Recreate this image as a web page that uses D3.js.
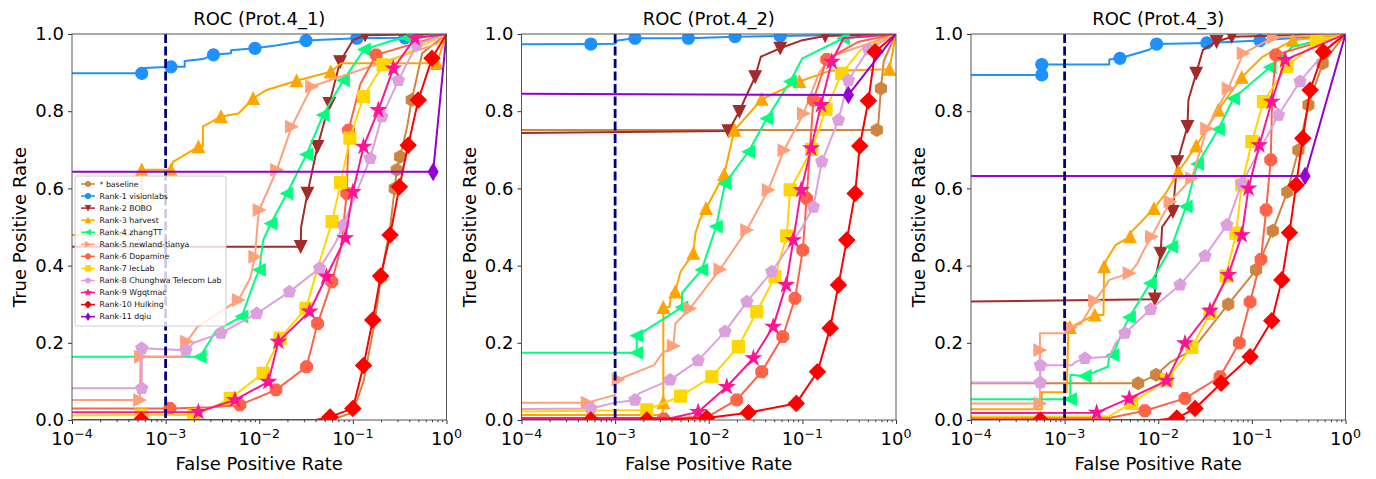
<!DOCTYPE html>
<html><head><meta charset="utf-8">
<script src="https://cdn.jsdelivr.net/npm/d3@7"></script>
<style>body{margin:0;background:#fff} text{font-family:"DejaVu Sans",sans-serif}</style>
</head><body>
<svg id="chart" width="1376" height="479"></svg>
<script>
// ---------------- data ----------------
const panelTitles = ["ROC (Prot.4_1)", "ROC (Prot.4_2)", "ROC (Prot.4_3)"];
const seriesNames = ["* baseline", "Rank-1 visionlabs", "Rank-2 BOBO", "Rank-3 harvest", "Rank-4 zhangTT",
  "Rank-5 newland-tianya", "Rank-6 Dopamine", "Rank-7 lecLab", "Rank-8 Chunghwa Telecom Lab",
  "Rank-9 Wgqtmac", "Rank-10 Hulking", "Rank-11 dqiu"];
const xTickValues = [1e-4, 1e-3, 1e-2, 1e-1, 1];
const xTickExponents = ["\u22124", "\u22123", "\u22122", "\u22121", "0"];
const yTickValues = [0, 0.2, 0.4, 0.6, 0.8, 1.0];
const thresholdFPR = 1e-3;
const xAxisLabel = "False Positive Rate";
const yAxisLabel = "True Positive Rate";

// each series: [panel1, panel2, panel3]; point = [fpr, tpr, markerFlag]
const baseline = [
  [[1e-5,0],[0.06,0],[0.1,0.02],[0.13,0.1],[0.17,0.25],[0.2,0.37,1],[0.25,0.5],[0.28,0.6,1],[0.294,0.648,1],[0.32,0.682,1],[0.38,0.76],[0.425,0.829,1],[0.55,0.95],[1,1]],
  [[1e-5,0.751],[0.624,0.751,1],[0.64,0.751],[0.69,0.859,1],[0.74,0.93],[1,1]],
  [[1e-5,0.095],[6.1e-3,0.095,1],[9.5e-3,0.117,1],[0.0135,0.15],[0.023,0.181],[0.056,0.3,1],[0.111,0.389,1],[0.167,0.49,1],[0.239,0.591,1],[0.314,0.699,1],[0.402,0.816,1],[0.57,0.924,1],[1,1]]
];
const visionlabs = [
  [[1e-5,0.898],[5.56e-4,0.898,1],[6e-4,0.898],[6e-4,0.912],[1.14e-3,0.915,1],[1.6e-3,0.915],[1.6e-3,0.93],[2.5e-3,0.935],[3.24e-3,0.946,1],[5e-3,0.95],[5e-3,0.958],[9.0e-3,0.963,1],[0.015,0.97],[0.0316,0.983,1],[0.11,0.989,1],[0.36,0.99,1],[1,1]],
  [[1e-5,0.972],[5.5e-4,0.974,1],[1e-3,0.975],[1.05e-3,0.983],[1.63e-3,0.989,1],[6.05e-3,0.989,1],[0.0191,0.993,1],[0.058,0.995,1],[1,1]],
  [[1e-5,0.894],[5.7e-4,0.894,1],[5.7e-4,0.921,1],[3e-3,0.921],[3e-3,0.934],[3.9e-3,0.937,1],[8e-3,0.959],[9.6e-3,0.974,1],[0.033,0.977,1],[0.122,0.983,1],[1,1]]
];
const bobo = [
  [[1e-5,0.449],[0.0277,0.449,1],[0.028,0.5],[0.0327,0.587,1],[0.0418,0.708,1],[0.0561,0.82,1],[0.073,0.928,1],[0.1,0.984],[0.135,0.997,1],[1,1]],
  [[1e-5,0.741],[0.0162,0.749,1],[0.0212,0.799,1],[0.024,0.829],[0.0313,0.889,1],[0.036,0.941],[0.058,0.963,1],[0.1,0.984],[0.175,0.995,1],[1,1]],
  [[1e-5,0.304],[9.2e-3,0.313,1],[9.2e-3,0.363],[0.0103,0.415],[0.0106,0.432,1],[0.011,0.5],[0.0143,0.54,1],[0.016,0.669,1],[0.0205,0.76,1],[0.021,0.829],[0.0254,0.898,1],[0.03,0.959],[0.042,0.98,1],[0.061,0.993,1],[1,1]]
];
const harvest = [
  [[1e-5,0.479],[5.5e-4,0.479],[5.56e-4,0.648,1],[1.14e-3,0.648,1],[1.2e-3,0.669],[2.24e-3,0.708,1],[2.5e-3,0.708],[2.5e-3,0.76],[3.9e-3,0.786,1],[6e-3,0.794],[8.6e-3,0.833,1],[0.012,0.855],[0.025,0.879,1],[0.058,0.902,1],[0.075,0.924],[0.787,0.924,1],[1,1]],
  [[1e-5,0.013],[3.2e-3,0.013],[3.27e-3,0.045,1],[3.27e-3,0.292,1],[3.8e-3,0.292],[4e-3,0.33],[4.37e-3,0.332,1],[5e-3,0.384],[6.84e-3,0.432,1],[7.2e-3,0.483],[8e-3,0.518],[9.35e-3,0.548,1],[0.0146,0.636,1],[0.0188,0.751,1],[0.0368,0.831,1],[0.093,0.877,1],[0.2,0.905],[0.85,0.909,1],[1,1]],
  [[1e-5,0.028],[5.7e-4,0.028],[5.7e-4,0.072],[1.05e-3,0.072],[1.1e-3,0.242],[1.14e-3,0.24,1],[2.1e-3,0.272,1],[2.6e-3,0.272],[2.64e-3,0.397,1],[2.8e-3,0.415],[3.5e-3,0.453],[5.0e-3,0.475,1],[5.2e-3,0.488],[9.0e-3,0.548,1],[0.012,0.587],[0.0164,0.643,1],[0.0254,0.71,1],[0.0438,0.803,1],[0.078,0.888,1],[0.13,0.941],[0.273,0.984,1],[1,1]]
];
const zhangTT = [
  [[1e-5,0.164],[2.33e-3,0.164,1],[3.5e-3,0.233],[6.5e-3,0.268,1],[9e-3,0.363],[0.01,0.389,1],[0.011,0.466],[0.0133,0.509,1],[0.0197,0.587,1],[0.032,0.688,1],[0.048,0.79,1],[0.079,0.88,1],[0.132,0.96,1],[0.27,0.984],[0.38,0.99,1],[1,1]],
  [[1e-5,0.174],[1.7e-3,0.174,1],[1.7e-3,0.218,1],[5.15e-3,0.292,1],[5.2e-3,0.33],[8.4e-3,0.389,1],[0.012,0.501,1],[0.0149,0.613,1],[0.0265,0.695,1],[0.0417,0.781,1],[0.074,0.877,1],[0.1,0.937],[0.274,0.989,1],[1,1]],
  [[1e-5,0.054],[1.15e-3,0.054,1],[1.15e-3,0.117],[1.65e-3,0.114,1],[2.9e-3,0.138],[3e-3,0.164],[3.27e-3,0.168,1],[4.2e-3,0.233],[4.9e-3,0.266,1],[8.2e-3,0.354,1],[0.0139,0.449,1],[0.0198,0.553,1],[0.0262,0.663,1],[0.0438,0.753,1],[0.0634,0.833,1],[0.156,0.914,1],[0.27,0.967],[1,1]]
];
const newland = [
  [[1e-5,0.052],[5.3e-4,0.052,1],[5.4e-4,0.164,1],[1.5e-3,0.164],[1.6e-3,0.203],[1.68e-3,0.203,1],[2.2e-3,0.242],[6.0e-3,0.311,1],[8e-3,0.367],[9e-3,0.423,1],[9.6e-3,0.509],[0.01,0.544,1],[0.0154,0.648,1],[0.0222,0.76,1],[0.0364,0.864,1],[0.8,0.975],[1,1]],
  [[1e-5,0.045],[5.05e-4,0.045,1],[1.0e-3,0.065],[1.0e-3,0.104],[1.08e-3,0.105,1],[2.6e-3,0.142],[3.2e-3,0.173],[4.19e-3,0.192,1],[4.4e-3,0.25],[6.3e-3,0.289,1],[0.0132,0.39,1],[0.0255,0.492,1],[0.0433,0.596,1],[0.0637,0.699,1],[0.103,0.794,1],[0.15,0.898],[0.2,0.941],[1,1]],
  [[1e-5,0.043],[5.45e-4,0.043,1],[5.45e-4,0.181,1],[5.45e-4,0.225],[1.0e-3,0.225],[1.16e-3,0.24,1],[1.5e-3,0.25],[2.1e-3,0.309,1],[2.7e-3,0.345],[3e-3,0.363],[4.9e-3,0.38,1],[6e-3,0.406],[7e-3,0.44],[8.5e-3,0.475,1],[0.0134,0.566,1],[0.0228,0.626,1],[0.033,0.755,1],[0.056,0.859,1],[0.081,0.95,1],[0.17,0.991,1],[1,1]]
];
const dopamine = [
  [[1e-5,0.03],[1.11e-3,0.03,1],[3e-3,0.033],[6.2e-3,0.039,1],[0.0151,0.078,1],[0.032,0.138,1],[0.042,0.25,1],[0.0596,0.358,1],[0.075,0.45],[0.086,0.587,1],[0.09,0.751,1],[0.12,0.87],[0.177,0.946,1],[1,1]],
  [[1e-5,0.003],[3.3e-3,0.003,1],[0.01,0.01],[0.0199,0.052,1],[0.0368,0.125,1],[0.0618,0.216,1],[0.0835,0.315,1],[0.101,0.44,1],[0.111,0.574,1],[0.131,0.829,1],[0.182,0.934,1],[0.4,0.98],[1,1]],
  [[1e-5,0.005],[3e-3,0.005],[7.2e-3,0.024,1],[0.0193,0.056,1],[0.0457,0.112,1],[0.0734,0.2,1],[0.0957,0.306,1],[0.125,0.416,1],[0.142,0.544,1],[0.159,0.674,1],[0.165,0.838],[0.18,0.946,1],[1,1]]
];
const lecLab = [
  [[1e-5,0.01],[5.5e-4,0.013,1],[2.0e-3,0.013,1],[3e-3,0.03],[4.9e-3,0.056,1],[0.011,0.121,1],[0.0167,0.212,1],[0.0316,0.289,1],[0.04,0.376],[0.06,0.514,1],[0.074,0.615,1],[0.093,0.73,1],[0.13,0.838,1],[0.21,0.92,1],[1,1]],
  [[1e-5,0.019],[2.18e-3,0.026,1],[5.0e-3,0.062,1],[0.0108,0.112,1],[0.0207,0.19,1],[0.0326,0.281,1],[0.051,0.371,1],[0.068,0.477,1],[0.074,0.596,1],[0.126,0.701,1],[0.179,0.805,1],[0.264,0.898,1],[0.42,0.959],[1,1]],
  [[1e-5,0.008],[3e-3,0.01],[5.2e-3,0.043,1],[0.0123,0.104,1],[0.0228,0.188,1],[0.0357,0.276,1],[0.053,0.373,1],[0.0677,0.484,1],[0.078,0.609,1],[0.1,0.721,1],[0.133,0.825,1],[0.236,0.916,1],[0.49,0.98,1],[1,1]]
];
const chunghwa = [
  [[1e-5,0.082],[5.56e-4,0.082,1],[5.56e-4,0.186,1],[1.65e-3,0.181,1],[2e-3,0.2],[3.9e-3,0.225,1],[9.4e-3,0.276,1],[0.021,0.332,1],[0.044,0.393,1],[0.065,0.458],[0.079,0.505,1],[0.153,0.678,1],[0.204,0.786,1],[0.306,0.88,1],[0.48,0.972,1],[1,1]],
  [[1e-5,0.026],[5.5e-4,0.03,1],[1e-3,0.045],[1.63e-3,0.052,1],[1.8e-3,0.069],[3.87e-3,0.104,1],[7.7e-3,0.154,1],[0.0149,0.229,1],[0.0255,0.306,1],[0.0471,0.384,1],[0.1,0.5],[0.131,0.552,1],[0.161,0.669,1],[0.243,0.777,1],[0.31,0.88,1],[0.507,0.96,1],[1,1]],
  [[1e-5,0.097],[5.5e-4,0.097,1],[5.5e-4,0.142,1],[1.2e-3,0.142],[1.3e-3,0.15],[1.65e-3,0.16,1],[3e-3,0.164],[3.5e-3,0.199],[4.4e-3,0.225,1],[8.3e-3,0.287,1],[0.0171,0.35,1],[0.0316,0.425,1],[0.054,0.505,1],[0.078,0.613,1],[0.192,0.79,1],[0.327,0.877,1],[0.7,0.972],[1,1]]
];
const wgqtmac = [
  [[1e-5,0.019],[2.24e-3,0.021,1],[5.5e-3,0.052,1],[0.0125,0.099,1],[0.016,0.203,1],[0.0345,0.281,1],[0.052,0.371,1],[0.083,0.471,1],[0.1,0.591,1],[0.13,0.708,1],[0.187,0.803,1],[0.27,0.911,1],[0.46,0.989,1],[1,1]],
  [[1e-5,0.005],[4e-3,0.005],[7.7e-3,0.021,1],[0.0156,0.086,1],[0.03,0.16,1],[0.0488,0.242,1],[0.067,0.35,1],[0.08,0.466,1],[0.097,0.596,1],[0.124,0.704,1],[0.158,0.816,1],[0.206,0.928,1],[0.274,0.989],[1,1]],
  [[1e-5,0.017],[2.2e-3,0.019,1],[4.9e-3,0.056,1],[0.0123,0.102,1],[0.0193,0.199,1],[0.0357,0.283,1],[0.056,0.376,1],[0.078,0.479,1],[0.092,0.6,1],[0.12,0.712,1],[0.163,0.825,1],[0.226,0.933,1],[1,1]]
];
const hulking = [
  [[1e-5,0],[5.5e-4,0,1],[0.04,0],[0.057,0.008,1],[0.1,0.03,1],[0.13,0.141,1],[0.163,0.259,1],[0.198,0.373,1],[0.25,0.479,1],[0.314,0.604,1],[0.39,0.712,1],[0.5,0.829,1],[0.70,0.937,1],[1,1]],
  [[1e-5,0],[5.5e-4,0,1],[2.18e-3,0,1],[9.5e-3,0.005,1],[0.0265,0.019,1],[0.086,0.043,1],[0.145,0.125,1],[0.198,0.238,1],[0.243,0.35,1],[0.298,0.466,1],[0.366,0.587,1],[0.41,0.71,1],[0.507,0.827,1],[0.598,0.954,1],[1,1]],
  [[1e-5,0],[5.5e-4,0,1],[0.01,0],[0.0158,0.005,1],[0.0247,0.03,1],[0.047,0.095,1],[0.0957,0.164,1],[0.163,0.257,1],[0.209,0.363,1],[0.252,0.485,1],[0.297,0.609,1],[0.35,0.73,1],[0.419,0.855,1],[0.58,0.954,1],[1,1]]
];
const dqiu = [
  [[1e-5,0.643],[0.72,0.643,1],[1,1]],
  [[1e-5,0.846],[0.31,0.842,1],[1,1]],
  [[1e-5,0.632],[0.37,0.632,1],[1,1]]
];

const allSeries = [baseline, visionlabs, bobo, harvest, zhangTT, newland, dopamine, lecLab, chunghwa, wgqtmac, hulking, dqiu];

// ---------------- styles ----------------
const colors = ["#CD853F", "#1E90FF", "#A52A2A", "#FFA500", "#00FF7F", "#FFA07A", "#FF6347", "#FFD700", "#DDA0DD", "#FF1493", "#FF0000", "#9400D3"];
const shapes = ["hexagon", "circle", "tri-down", "tri-up", "tri-left", "tri-right", "octagon", "square", "pentagon", "star", "diamond", "thin-diamond"];

const panelLefts = [72, 521.5, 971];
const W = 374.5, TOP = 34, H = 386;
const FONT = 18;

function regPoly(n, r, rotDeg) {
  const pts = [];
  for (let i = 0; i < n; i++) {
    const a = (rotDeg + i * 360 / n) * Math.PI / 180;
    pts.push([r * Math.sin(a), -r * Math.cos(a)]);
  }
  return "M" + pts.map(p => p[0].toFixed(2) + "," + p[1].toFixed(2)).join("L") + "Z";
}
function markerPath(shape, s) {
  const r = s / 2;
  switch (shape) {
    case "circle": return `M${r},0A${r},${r} 0 1,1 ${-r},0A${r},${r} 0 1,1 ${r},0Z`;
    case "tri-up": return `M0,${-r}L${-r},${r}L${r},${r}Z`;
    case "tri-down": return `M0,${r}L${-r},${-r}L${r},${-r}Z`;
    case "tri-left": return `M${-r},0L${r},${-r}L${r},${r}Z`;
    case "tri-right": return `M${r},0L${-r},${-r}L${-r},${r}Z`;
    case "square": return `M${-r},${-r}H${r}V${r}H${-r}Z`;
    case "diamond": { const d = 0.66 * s; return `M0,${-d}L${d},0L0,${d}L${-d},0Z`; }
    case "thin-diamond": { const d = 0.68 * s, w = 0.6 * d; return `M0,${-d}L${w},0L0,${d}L${-w},0Z`; }
    case "pentagon": return regPoly(5, r * 1.05, 0);
    case "hexagon": return regPoly(6, r * 1.05, 0);
    case "octagon": return regPoly(8, r * 1.05, 22.5);
    case "star": {
      const pts = [];
      for (let i = 0; i < 10; i++) {
        const rr = i % 2 === 0 ? r * 1.25 : r * 1.25 * 0.381966;
        const a = i * 36 * Math.PI / 180;
        pts.push([rr * Math.sin(a), -rr * Math.cos(a)]);
      }
      return "M" + pts.map(p => p[0].toFixed(2) + "," + p[1].toFixed(2)).join("L") + "Z";
    }
  }
}

const svg = d3.select("#chart");
svg.append("rect").attr("width", 1376).attr("height", 479).attr("fill", "#fff");
const defs = svg.append("defs");

panelTitles.forEach((title, pi) => {
  const left = panelLefts[pi];
  const x = d3.scaleLog().domain([1e-4, 1]).range([left, left + W]);
  const y = d3.scaleLinear().domain([0, 1]).range([TOP + H, TOP]);
  const clipId = "clip" + pi;
  defs.append("clipPath").attr("id", clipId).append("rect")
    .attr("x", left).attr("y", TOP).attr("width", W).attr("height", H);

  const g = svg.append("g");
  const plot = g.append("g").attr("clip-path", `url(#${clipId})`);
  const line = d3.line().x(d => x(d[0])).y(d => y(d[1]));

  allSeries.forEach((ser, si) => {
    const pts = ser[pi];
    plot.append("path").datum(pts).attr("d", line)
      .attr("fill", "none").attr("stroke", colors[si]).attr("stroke-width", 2)
      .attr("stroke-linejoin", "round").attr("stroke-linecap", "square");
    plot.selectAll(null).data(pts.filter(d => d[2])).enter().append("path")
      .attr("transform", d => `translate(${x(d[0])},${y(d[1])})`)
      .attr("d", markerPath(shapes[si], 12))
      .attr("fill", colors[si]).attr("stroke", colors[si]).attr("stroke-width", 1.2)
      .attr("stroke-linejoin", "miter");
  });

  // threshold dashed line
  plot.append("line")
    .attr("x1", x(thresholdFPR)).attr("x2", x(thresholdFPR))
    .attr("y1", TOP).attr("y2", TOP + H)
    .attr("stroke", "#000080").attr("stroke-width", 2.8).attr("stroke-dasharray", "9,3.5");

  // axes
  const yAxis = d3.axisLeft(y).tickValues(yTickValues).tickFormat(d3.format(".1f")).tickSize(4).tickPadding(4);
  const ya = g.append("g").attr("transform", `translate(${left},0)`).call(yAxis);
  ya.select(".domain").remove();
  ya.selectAll("line").attr("stroke", "#333");
  ya.selectAll("text").attr("font-size", FONT).attr("font-family", "DejaVu Sans").attr("fill", "#000");

  const minorVals = [];
  for (let e = -4; e < 0; e++) for (let k = 2; k <= 9; k++) minorVals.push(k * Math.pow(10, e));
  const xMinor = g.append("g").attr("transform", `translate(0,${TOP + H})`)
    .call(d3.axisBottom(x).tickValues(minorVals).tickFormat("").tickSize(2.2));
  xMinor.select(".domain").remove();
  xMinor.selectAll("line").attr("stroke", "#333");
  const xa = g.append("g").attr("transform", `translate(0,${TOP + H})`)
    .call(d3.axisBottom(x).tickValues(xTickValues).tickFormat("").tickSize(4));
  xa.select(".domain").remove();
  xa.selectAll("line").attr("stroke", "#333");
  xTickValues.forEach((v, i) => {
    const t = g.append("text").attr("x", x(v)).attr("y", TOP + H + 25)
      .attr("text-anchor", "middle").attr("font-size", FONT).attr("fill", "#000");
    t.append("tspan").text("10");
    t.append("tspan").attr("dy", -7.5).attr("font-size", 12.6).text(xTickExponents[i]);
  });

  // frame
  g.append("rect").attr("x", left).attr("y", TOP).attr("width", W).attr("height", H)
    .attr("fill", "none").attr("stroke", "#555").attr("stroke-width", 1);

  // labels
  g.append("text").attr("x", left + W / 2).attr("y", 25).attr("text-anchor", "middle")
    .attr("font-size", FONT).text(title);
  g.append("text").attr("x", left + W / 2).attr("y", 470).attr("text-anchor", "middle")
    .attr("font-size", FONT).text(xAxisLabel);
  g.append("text").attr("transform", `translate(${left - 46},${TOP + H / 2}) rotate(-90)`)
    .attr("text-anchor", "middle").attr("font-size", FONT).text(yAxisLabel);

  // legend (first panel only)
  if (pi === 0) {
    const lg = g.append("g");
    const lx = left + 3, ly = 176, lw = 151, lh = 150;
    lg.append("rect").attr("x", lx).attr("y", ly).attr("width", lw).attr("height", lh)
      .attr("rx", 2).attr("fill", "#fff").attr("fill-opacity", 0.8)
      .attr("stroke", "#ccc").attr("stroke-width", 1);
    seriesNames.forEach((name, si) => {
      const cy = ly + 8 + si * 12.06;
      lg.append("line").attr("x1", lx + 6).attr("x2", lx + 20).attr("y1", cy).attr("y2", cy)
        .attr("stroke", colors[si]).attr("stroke-width", 1.5);
      lg.append("path").attr("transform", `translate(${lx + 13},${cy})`)
        .attr("d", markerPath(shapes[si], 5.5)).attr("fill", colors[si]).attr("stroke", colors[si]).attr("stroke-width", 0.8);
      lg.append("text").attr("x", lx + 24.5).attr("y", cy + 2.8).attr("font-size", 7.8).attr("fill", "#111").text(name);
    });
  }
});
</script>
</body></html>
